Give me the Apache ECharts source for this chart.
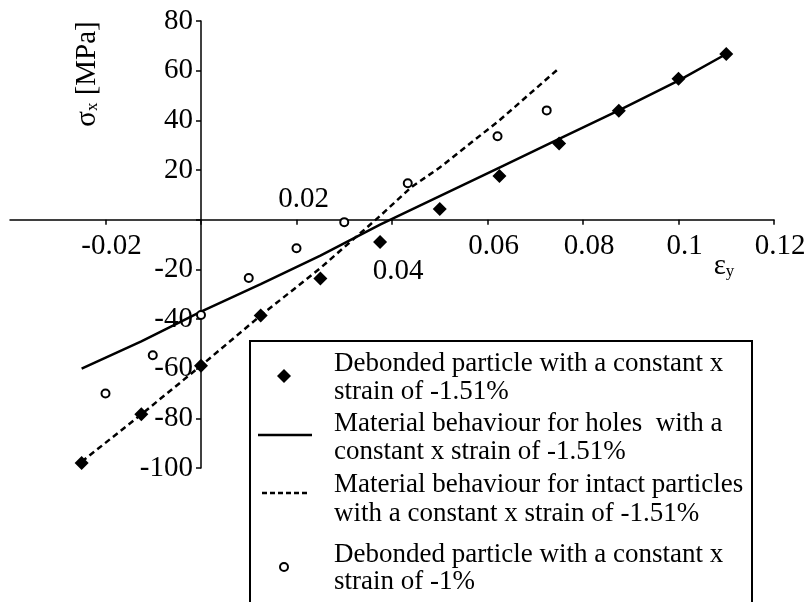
<!DOCTYPE html>
<html>
<head>
<meta charset="utf-8">
<script src="https://cdn.jsdelivr.net/npm/echarts@6/dist/echarts.min.js"></script>
<style>
  html, body { margin: 0; background: #fff; }
  #main { width: 809px; height: 602px; }
</style>
</head>
<body>
<div id="main"></div>
<script>
// strain e_y and stress sigma_x [MPa]
var strainDiamond = [-0.025, -0.0125, 0, 0.0125, 0.025, 0.0375, 0.05, 0.0625, 0.075, 0.0875, 0.1, 0.11];
var stressDiamond = [-98, -78.4, -58.8, -38.6, -23.7, -9, 4.3, 17.6, 30.7, 43.9, 56.7, 66.7];

var strainHoles = [-0.025, -0.0125, 0, 0.0125, 0.025, 0.0375, 0.05, 0.0625, 0.075, 0.0875, 0.1, 0.11];
var stressHoles = [-60, -49, -37, -26, -14.5, -2, 9.5, 21, 32.5, 44, 56, 66.7];

var strainIntact = [-0.025, -0.0125, 0, 0.0125, 0.025, 0.0375, 0.044, 0.05, 0.0625, 0.075];
var stressIntact = [-97.5, -78.4, -58.8, -38.6, -19.5, 1.5, 13, 21, 40, 61];

var strainCircle = [-0.02, -0.0101, 0, 0.01, 0.02, 0.03, 0.0433, 0.0621, 0.0724];
var stressCircle = [-70, -54.6, -38.4, -23.5, -11.5, -1, 14.7, 33.6, 44];

var xLabelValues = [-0.02, 0.06, 0.08, 0.1, 0.12];
var xTickValues = [-0.02, 0, 0.02, 0.04, 0.06, 0.08, 0.1, 0.12];
var yTickValues = [-100, -80, -60, -40, -20, 0, 20, 40, 60, 80];
var yLabelValues = [-100, -80, -60, -40, -20, 20, 40, 60, 80];

var legendLines = [
  ['Debonded particle with a constant x', 'strain of -1.51%'],
  ['Material behaviour for holes  with a', 'constant x strain of -1.51%'],
  ['Material behaviour for intact particles', 'with a constant x strain of -1.51%'],
  ['Debonded particle with a constant x', 'strain of -1%']
];

var FONT = '"Liberation Serif", "Times New Roman", serif';

var X_MIN = -0.04, X_MAX = 0.12, Y_MIN = -100, Y_MAX = 80;
var G_LEFT = 10, G_RIGHT = 35, G_TOP = 21, G_BOTTOM = 134;
var gridW = 809 - G_LEFT - G_RIGHT;
var gridH = 602 - G_TOP - G_BOTTOM;
// move axes from the grid edges to the zero lines
var xAxisShift = -gridH * (0 - Y_MIN) / (Y_MAX - Y_MIN);
var yAxisShift = -gridW * (0 - X_MIN) / (X_MAX - X_MIN);

function pairs(xs, ys) {
  return xs.map(function (x, i) { return [x, ys[i]]; });
}

var chart = echarts.init(document.getElementById('main'));

chart.setOption({
  backgroundColor: '#fff',
  animation: false,
  grid: { left: G_LEFT, right: G_RIGHT, top: G_TOP, bottom: G_BOTTOM, containLabel: false, outerBoundsMode: 'none' },
  xAxis: {
    type: 'value', min: X_MIN, max: X_MAX, interval: 0.02,
    offset: xAxisShift,
    splitLine: { show: false },
    axisLine: { onZero: false, lineStyle: { color: '#000', width: 1.5 } },
    axisTick: { customValues: xTickValues, length: 5, lineStyle: { color: '#000', width: 1.5 } },
    axisLabel: {
      customValues: xLabelValues,
      margin: 12,
      padding: [0, 0, 0, 12],
      color: '#000', fontFamily: FONT, fontSize: 29,
      formatter: function (v) { return String(+v.toFixed(2)); }
    }
  },
  yAxis: {
    type: 'value', min: Y_MIN, max: Y_MAX, interval: 20,
    offset: yAxisShift,
    splitLine: { show: false },
    axisLine: { onZero: false, lineStyle: { color: '#000', width: 1.5 } },
    axisTick: { customValues: yTickValues, length: 5, lineStyle: { color: '#000', width: 1.5 } },
    axisLabel: {
      customValues: yLabelValues,
      margin: 8,
      color: '#000', fontFamily: FONT, fontSize: 29
    }
  },
  series: [
    {
      name: 'holes', type: 'line', symbol: 'none', z: 2,
      data: pairs(strainHoles, stressHoles),
      lineStyle: { color: '#000', width: 2.5 }
    },
    {
      name: 'intact', type: 'line', symbol: 'none', z: 2,
      data: pairs(strainIntact, stressIntact),
      lineStyle: { color: '#000', width: 2.5, type: [6, 4] }
    },
    {
      name: 'debonded -1.51%', type: 'scatter', symbol: 'diamond', symbolSize: 14, z: 3,
      data: pairs(strainDiamond, stressDiamond),
      itemStyle: { color: '#000', opacity: 1 }
    },
    {
      name: 'debonded -1%', type: 'scatter', symbol: 'circle', symbolSize: 8, z: 3,
      data: pairs(strainCircle, stressCircle),
      itemStyle: { color: '#fff', borderColor: '#000', borderWidth: 2, opacity: 1 }
    }
  ]
});

var p02 = chart.convertToPixel({ gridIndex: 0 }, [0.02, 0]);
var p04 = chart.convertToPixel({ gridIndex: 0 }, [0.04, 0]);

// legend box drawn by hand: two-line entries with their own keys
var LX = 250, LY = 341, TX = 334;
var lineMid = [[364, 392], [423.5, 452], [485, 513.5], [555, 582]];
var legendGraphics = [
  { type: 'rect', z: 10, shape: { x: LX, y: LY, width: 502, height: 320 },
    style: { fill: '#fff', stroke: '#000', lineWidth: 2 } },
  { type: 'polygon', z: 11, shape: { points: [[284, 369], [291, 376], [284, 383], [277, 376]] },
    style: { fill: '#000' } },
  { type: 'line', z: 11, shape: { x1: 258, y1: 435, x2: 312, y2: 435 },
    style: { stroke: '#000', lineWidth: 2.5 } },
  { type: 'line', z: 11, shape: { x1: 262, y1: 493, x2: 308, y2: 493 },
    style: { stroke: '#000', lineWidth: 2.5, lineDash: [5, 3] } },
  { type: 'circle', z: 11, shape: { cx: 284, cy: 567, r: 4 },
    style: { fill: '#fff', stroke: '#000', lineWidth: 2 } }
];
legendLines.forEach(function (pair, i) {
  pair.forEach(function (t, j) {
    legendGraphics.push({
      type: 'text', z: 11, x: TX, y: lineMid[i][j],
      style: { text: t, font: '27px ' + FONT, fill: '#000', align: 'left', verticalAlign: 'middle' }
    });
  });
});

chart.setOption({
  graphic: [
    {
      type: 'text', x: p02[0] + 7, y: p02[1] - 20,
      style: { text: '0.02', font: '29px ' + FONT, fill: '#000', align: 'center', verticalAlign: 'middle' }
    },
    {
      type: 'text', x: p04[0] + 6, y: p04[1] + 52,
      style: { text: '0.04', font: '29px ' + FONT, fill: '#000', align: 'center', verticalAlign: 'middle' }
    },
    {
      type: 'text', x: 87, y: 74, rotation: Math.PI / 2,
      style: {
        text: '{a|σ}{b|x}{a| [MPa]}', align: 'center', verticalAlign: 'middle', fill: '#000',
        rich: {
          a: { fontFamily: FONT, fontSize: 29, fill: '#000' },
          b: { fontFamily: FONT, fontSize: 17, fill: '#000', verticalAlign: 'bottom' }
        }
      }
    },
    {
      type: 'text', x: 724, y: 266,
      style: {
        text: '{a|ε}{b|y}', align: 'center', verticalAlign: 'middle', fill: '#000',
        rich: {
          a: { fontFamily: FONT, fontSize: 29, fill: '#000' },
          b: { fontFamily: FONT, fontSize: 17, fill: '#000', verticalAlign: 'bottom' }
        }
      }
    }
  ].concat(legendGraphics)
});
</script>
</body>
</html>
